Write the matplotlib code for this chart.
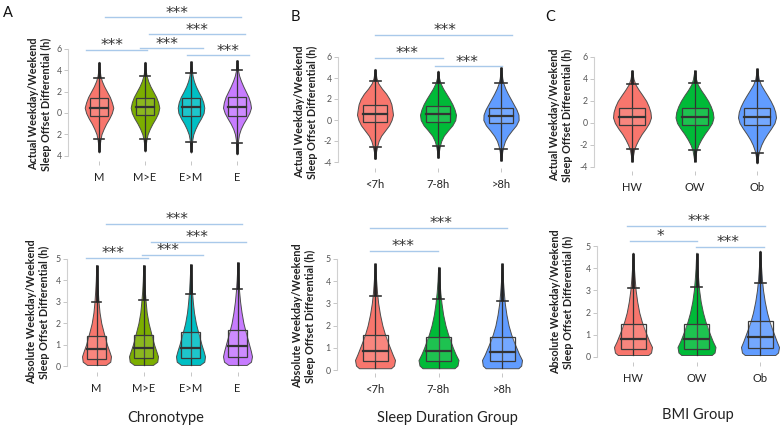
import numpy as np
import matplotlib.pyplot as plt
from matplotlib.patches import Rectangle

plt.rcParams['font.family'] = ['Lato', 'DejaVu Sans']

W, H = 783, 430

# ------------------------------------------------------------------ data
chrono = ['M', 'M>E', 'E>M', 'E']
sleep = ['<7h', '7-8h', '>8h']
bmi = ['HW', 'OW', 'Ob']

col4 = ['#F8766D', '#7CAE00', '#00BFC4', '#C77CFF']
col3 = ['#F8766D', '#00BA38', '#619CFF']

# y levels where the violin widths were read (relative to the widest point)
act_levels = [-3.0, -2.5, -2.0, -1.5, -1.0, -0.5, 0.0, 0.5, 1.0, 1.5, 2.0, 2.5, 3.0, 3.5, 4.0]
abs_levels = [0.2, 0.45, 0.7, 1.0, 1.3, 1.6, 2.0, 2.5, 3.0, 3.5, 4.0, 4.4]

# A: chronotype, actual differential
ch_act_q1 = [-0.25, -0.19, -0.25, -0.28]
ch_act_med = [0.48, 0.55, 0.58, 0.6]
ch_act_q3 = [1.38, 1.44, 1.44, 1.53]
ch_act_lo = [-2.44, -2.44, -2.69, -2.84]
ch_act_hi = [3.31, 3.5, 3.72, 4.03]
ch_act_min = [-3.69, -3.6, -3.7, -3.87]
ch_act_max = [4.8, 4.8, 4.85, 4.97]
ch_act_w = [
    [0.01, 0.05, 0.1, 0.17, 0.32, 0.5, 0.72, 0.9, 1.0, 0.9, 0.76, 0.56, 0.36, 0.2, 0.1, 0.05],
    [0.01, 0.05, 0.1, 0.18, 0.33, 0.52, 0.74, 0.92, 1.0, 0.92, 0.78, 0.58, 0.38, 0.22, 0.11, 0.05],
    [0.01, 0.05, 0.09, 0.16, 0.3, 0.48, 0.7, 0.88, 0.93, 0.86, 0.72, 0.52, 0.34, 0.2, 0.11, 0.06],
    [0.01, 0.04, 0.08, 0.14, 0.26, 0.44, 0.66, 0.86, 0.98, 0.92, 0.8, 0.62, 0.44, 0.28, 0.15, 0.07],
]

# A: chronotype, absolute differential
ch_abs_q1 = [0.33, 0.36, 0.39, 0.44]
ch_abs_med = [0.78, 0.83, 0.86, 0.95]
ch_abs_q3 = [1.42, 1.45, 1.57, 1.68]
ch_abs_hi = [2.98, 3.08, 3.35, 3.6]
ch_abs_min = [0.05, 0.05, 0.05, 0.05]
ch_abs_max = [4.72, 4.72, 4.76, 4.85]
ch_abs_w = [
    [0.65, 0.95, 1.0, 0.88, 0.72, 0.6, 0.48, 0.33, 0.21, 0.14, 0.09, 0.05, 0.03],
    [0.65, 0.95, 1.0, 0.88, 0.73, 0.61, 0.5, 0.35, 0.22, 0.15, 0.09, 0.05, 0.03],
    [0.65, 0.95, 1.0, 0.9, 0.76, 0.64, 0.52, 0.37, 0.24, 0.16, 0.1, 0.06, 0.03],
    [0.63, 0.93, 1.0, 0.92, 0.8, 0.68, 0.56, 0.41, 0.28, 0.18, 0.11, 0.06, 0.03],
]

# B: sleep duration, actual differential
sl_act_q1 = [-0.16, -0.2, -0.25]
sl_act_med = [0.58, 0.53, 0.4]
sl_act_q3 = [1.42, 1.32, 1.16]
sl_act_lo = [-2.58, -2.45, -2.77]
sl_act_hi = [3.71, 3.52, 3.52]
sl_act_min = [-3.7, -3.6, -3.87]
sl_act_max = [4.87, 4.7, 5.03]
sl_act_w = [
    [0.01, 0.06, 0.12, 0.2, 0.34, 0.56, 0.78, 0.92, 1.0, 0.96, 0.91, 0.8, 0.62, 0.38, 0.18, 0.08],
    [0.01, 0.05, 0.1, 0.18, 0.32, 0.55, 0.8, 0.96, 1.0, 0.92, 0.8, 0.64, 0.46, 0.28, 0.14, 0.06],
    [0.01, 0.07, 0.13, 0.22, 0.38, 0.6, 0.84, 0.98, 0.97, 0.86, 0.7, 0.54, 0.38, 0.24, 0.13, 0.07],
]

# B: sleep duration, absolute differential
sl_abs_q1 = [0.41, 0.41, 0.41]
sl_abs_med = [0.86, 0.86, 0.83]
sl_abs_q3 = [1.58, 1.5, 1.5]
sl_abs_hi = [3.33, 3.18, 3.1]
sl_abs_min = [0.08, 0.08, 0.08]
sl_abs_max = [4.8, 4.65, 4.8]
sl_abs_w = [
    [0.8, 0.95, 1.0, 0.88, 0.75, 0.62, 0.5, 0.37, 0.25, 0.16, 0.1, 0.06, 0.03],
    [0.8, 0.95, 1.0, 0.86, 0.72, 0.6, 0.48, 0.35, 0.23, 0.15, 0.09, 0.05, 0.03],
    [0.82, 0.96, 1.0, 0.86, 0.72, 0.58, 0.46, 0.33, 0.22, 0.14, 0.09, 0.05, 0.03],
]

# C: BMI, actual differential
bm_act_q1 = [-0.18, -0.18, -0.18]
bm_act_med = [0.58, 0.55, 0.58]
bm_act_q3 = [1.33, 1.36, 1.39]
bm_act_lo = [-2.39, -2.45, -2.7]
bm_act_hi = [3.55, 3.6, 3.85]
bm_act_min = [-3.5, -3.5, -3.66]
bm_act_max = [4.8, 4.8, 4.97]
bm_act_w = [
    [0.01, 0.05, 0.1, 0.2, 0.34, 0.51, 0.72, 0.9, 1.0, 0.97, 0.88, 0.75, 0.56, 0.36, 0.18, 0.08],
    [0.01, 0.05, 0.1, 0.2, 0.35, 0.53, 0.74, 0.92, 1.0, 0.96, 0.86, 0.72, 0.54, 0.34, 0.17, 0.08],
    [0.01, 0.06, 0.12, 0.22, 0.36, 0.54, 0.74, 0.92, 1.0, 0.96, 0.86, 0.72, 0.55, 0.37, 0.2, 0.09],
]

# C: BMI, absolute differential
bm_abs_q1 = [0.36, 0.36, 0.39]
bm_abs_med = [0.81, 0.83, 0.89]
bm_abs_q3 = [1.47, 1.5, 1.6]
bm_abs_hi = [3.12, 3.17, 3.35]
bm_abs_min = [0.09, 0.09, 0.09]
bm_abs_max = [4.7, 4.7, 4.79]
bm_abs_w = [
    [0.8, 0.95, 1.0, 0.86, 0.72, 0.58, 0.46, 0.33, 0.22, 0.14, 0.09, 0.05, 0.03],
    [0.8, 0.95, 1.0, 0.86, 0.72, 0.59, 0.47, 0.34, 0.22, 0.14, 0.09, 0.05, 0.03],
    [0.8, 0.95, 1.0, 0.88, 0.75, 0.62, 0.5, 0.37, 0.25, 0.16, 0.1, 0.06, 0.03],
]

# significance brackets: x from, x to, height, text x, label
sig_ch_act = [(0.72, 2.04, 5.9, 1.28, '***'), (1.89, 3.26, 6.07, 2.48, '***'),
              (2.91, 4.26, 5.42, 3.8, '***'), (2.09, 4.17, 7.38, 3.13, '***'),
              (1.13, 4.09, 8.97, 2.7, '***')]
sig_ch_abs = [(0.78, 2.1, 5.05, 1.36, '***'), (1.97, 3.27, 5.19, 2.53, '***'),
              (2.16, 4.18, 5.79, 3.14, '***'), (1.2, 4.1, 6.64, 2.71, '***')]
sig_sl_act = [(1.0, 3.17, 8.1, 2.11, '***'), (1.0, 2.08, 5.94, 1.51, '***'),
              (1.95, 3.02, 5.1, 2.46, '***')]
sig_sl_abs = [(0.92, 3.08, 6.4, 2.04, '***'), (0.92, 1.99, 5.36, 1.44, '***')]
sig_bm_abs = [(0.91, 3.08, 5.9, 2.04, '***'), (0.95, 2.01, 5.23, 1.43, '*'),
              (1.99, 3.06, 4.95, 2.5, '***')]

ylab_act = 'Actual Weekday/Weekend\nSleep Offset Differential (h)'
ylab_abs = 'Absolute Weekday/Weekend\nSleep Offset Differential (h)'


# ------------------------------------------------------------------ helpers
fig = plt.figure(figsize=(W / 100, H / 100), dpi=100)
fig.patch.set_facecolor('white')


def make_ax(spine, c1, sp, right, ytop, ytop_px, zero_px, bottom_px):
    unit = (zero_px - ytop_px) / ytop
    ax = fig.add_axes([spine / W, 1 - bottom_px / H, (right - spine) / W, (bottom_px - ytop_px) / H])
    ax.set_xlim(1 + (spine - c1) / sp, 1 + (right - c1) / sp)
    ax.set_ylim((zero_px - bottom_px) / unit, ytop)
    ax.patch.set_alpha(0)
    return ax


def style_ax(ax, cats, yticks, ylabels):
    for s in ['top', 'right', 'bottom']:
        ax.spines[s].set_visible(False)
    ax.spines['left'].set_color('#d0d0d0')
    ax.spines['left'].set_linewidth(0.8)
    ax.spines['left'].set_bounds(yticks[0], yticks[-1])
    ax.set_yticks(yticks)
    ax.set_yticklabels(ylabels)
    ax.tick_params(axis='y', length=3, width=0.6, color='#bdbdbd', labelsize=6.3, labelcolor='#555555', pad=1.5)
    ax.set_xticks(range(1, len(cats) + 1))
    ax.set_xticklabels(cats)
    ax.tick_params(axis='x', length=3, width=0.6, color='#bdbdbd', labelsize=8, labelcolor='#222222', pad=5)


def draw_violins(ax, sp, colors, q1, med, q3, lo, hi, vmin, vmax, levels, widths, vhalf, bhalf, chalf, absolute):
    for i in range(len(q1)):
        x = i + 1
        ys = [vmin[i]] + levels + [vmax[i]]
        ws = np.array(widths[i] + [0.0]) * vhalf / sp
        ax.fill_betweenx(ys, x - ws, x + ws, facecolor=colors[i], edgecolor='#4d4d4d', lw=0.7, zorder=2)
        bh = bhalf / sp
        ch = chalf / sp
        low = vmin[i] if absolute else lo[i]
        ax.plot([x, x], [low, hi[i]], color='#333333', lw=0.9, zorder=3)
        ax.add_patch(Rectangle((x - bh, q1[i]), 2 * bh, q3[i] - q1[i], facecolor=(1, 1, 1, 0.12),
                               edgecolor='#3a3a3a', lw=0.9, zorder=3))
        ax.plot([x - bh, x + bh], [med[i], med[i]], color='#333333', lw=1.6, zorder=4)
        ax.plot([x - ch, x + ch], [hi[i], hi[i]], color='#333333', lw=1.2, zorder=4)
        ax.plot([x, x], [hi[i], vmax[i]], color='#222222', lw=2.0, zorder=4, solid_capstyle='butt')
        if not absolute:
            ax.plot([x - ch, x + ch], [lo[i], lo[i]], color='#333333', lw=1.2, zorder=4)
            ax.plot([x, x], [vmin[i], lo[i]], color='#222222', lw=2.0, zorder=4, solid_capstyle='butt')


def draw_sig(ax, bars):
    for x1, x2, y, tx, label in bars:
        ax.plot([x1, x2], [y, y], color='#a9c9ea', lw=1, clip_on=False, zorder=1)
        ax.annotate(label, (tx, y), xytext=(0, 3), textcoords='offset points', ha='center', va='center',
                    fontsize=11, color='#333333', annotation_clip=False, family='DejaVu Sans')


def ylabel(x, y, text):
    fig.text(x / W, 1 - y / H, text, rotation=90, ha='center', va='center', fontsize=7.8,
             fontweight='bold', linespacing=1.2, color='#222222')


# ------------------------------------------------------------------ panel A
ax = make_ax(68, 99, 46, 262, 6, 49, 113, 161)
style_ax(ax, chrono, [-4, -2, 0, 2, 4, 6], ['4', '2', '0', '2', '4', '6'])
draw_violins(ax, 46, col4, ch_act_q1, ch_act_med, ch_act_q3, ch_act_lo, ch_act_hi, ch_act_min, ch_act_max,
             act_levels, ch_act_w, 14.3, 9, 4.7, False)
draw_sig(ax, sig_ch_act)
ylabel(40, 104, ylab_act)

ax = make_ax(67, 96.5, 47, 262, 5, 259, 366, 372)
style_ax(ax, chrono, [0, 1, 2, 3, 4, 5], ['0', '1', '2', '3', '4', '5'])
draw_violins(ax, 47, col4, ch_abs_q1, ch_abs_med, ch_abs_q3, None, ch_abs_hi, ch_abs_min, ch_abs_max,
             abs_levels, ch_abs_w, 14.5, 9.5, 4.7, True)
draw_sig(ax, sig_ch_abs)
ylabel(38, 312, ylab_abs)

# ------------------------------------------------------------------ panel B
ax = make_ax(338, 375, 63, 530, 6, 57, 120, 168)
style_ax(ax, sleep, [-4, -2, 0, 2, 4, 6], ['-4', '-2', '0', '2', '4', '6'])
draw_violins(ax, 63, col3, sl_act_q1, sl_act_med, sl_act_q3, sl_act_lo, sl_act_hi, sl_act_min, sl_act_max,
             act_levels, sl_act_w, 18, 12, 5.5, False)
draw_sig(ax, sig_sl_act)
ylabel(306, 112, ylab_act)

ax = make_ax(337, 375, 63.5, 530, 5, 259, 370, 373)
style_ax(ax, sleep, [0, 1, 2, 3, 4, 5], ['0', '1', '2', '3', '4', '5'])
draw_violins(ax, 63.5, col3, sl_abs_q1, sl_abs_med, sl_abs_q3, None, sl_abs_hi, sl_abs_min, sl_abs_max,
             abs_levels, sl_abs_w, 20, 12.5, 5.5, True)
draw_sig(ax, sig_sl_abs)
ylabel(304, 316, ylab_abs)

# ------------------------------------------------------------------ panel C
ax = make_ax(594, 632, 62.5, 783, 6, 57, 123, 171)
style_ax(ax, bmi, [-4, -2, 0, 2, 4, 6], ['-4', '-2', '0', '2', '4', '6'])
draw_violins(ax, 62.5, col3, bm_act_q1, bm_act_med, bm_act_q3, bm_act_lo, bm_act_hi, bm_act_min, bm_act_max,
             act_levels, bm_act_w, 19, 13, 5.5, False)
ylabel(561, 115, ylab_act)

ax = make_ax(597, 633, 63.5, 783, 5, 246, 357, 362)
style_ax(ax, bmi, [0, 1, 2, 3, 4, 5], ['0', '1', '2', '3', '4', '5'])
draw_violins(ax, 63.5, col3, bm_abs_q1, bm_abs_med, bm_abs_q3, None, bm_abs_hi, bm_abs_min, bm_abs_max,
             abs_levels, bm_abs_w, 19, 12.5, 5.5, True)
draw_sig(ax, sig_bm_abs)
ylabel(562, 302, ylab_abs)

# ------------------------------------------------------------------ labels
fig.text(166 / W, 1 - 418 / H, 'Chronotype', ha='center', va='center', fontsize=10.5, color='#222222')
fig.text(447 / W, 1 - 418 / H, 'Sleep Duration Group', ha='center', va='center', fontsize=10.5, color='#222222')
fig.text(698 / W, 1 - 415 / H, 'BMI Group', ha='center', va='center', fontsize=10.5, color='#222222')

fig.text(8 / W, 1 - 13 / H, 'A', ha='center', va='center', fontsize=10.5, color='#111111')
fig.text(295 / W, 1 - 17 / H, 'B', ha='center', va='center', fontsize=10.5, color='#111111')
fig.text(550 / W, 1 - 17 / H, 'C', ha='center', va='center', fontsize=10.5, color='#111111')

plt.savefig('out.png', dpi=100)
